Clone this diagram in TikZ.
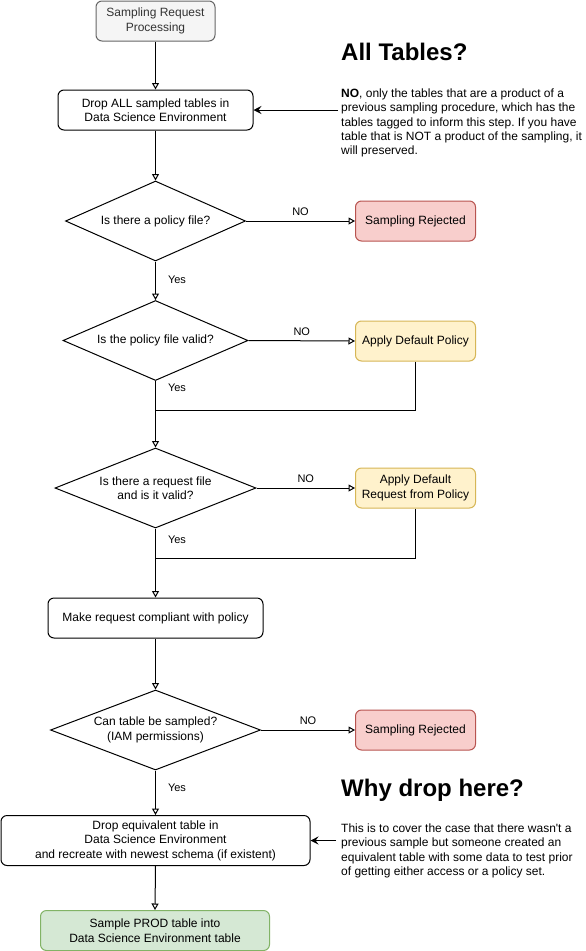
\documentclass[tikz,border=0pt]{standalone}
\usepackage{fontspec}
\setmainfont{Liberation Sans}[Ligatures=TeXOff]
\usetikzlibrary{shapes.geometric,arrows.meta,calc}
\definecolor{grayfill}{HTML}{F5F5F5}
\definecolor{graydraw}{HTML}{666666}
\definecolor{graytext}{HTML}{333333}
\definecolor{redfill}{HTML}{F8CECC}
\definecolor{reddraw}{HTML}{B85450}
\definecolor{yelfill}{HTML}{FFF2CC}
\definecolor{yeldraw}{HTML}{D6B656}
\definecolor{grnfill}{HTML}{D5E8D4}
\definecolor{grndraw}{HTML}{82B366}
\frenchspacing
\begin{document}
\begin{tikzpicture}[x=1pt,y=-1pt,
  base/.style={font=\fontsize{12}{14.4}\selectfont, align=center, inner sep=0pt, line width=1pt},
  box/.style={base, draw, rounded corners=6pt, fill=white, minimum height=40pt},
  dia/.style={base, draw, diamond, fill=white, minimum height=80pt},
  flow/.style={line width=1pt, -{Triangle[open,length=6.5pt,width=7pt]}},
  plain/.style={line width=1pt},
  note/.style={line width=1pt, -{Stealth[length=8pt,width=8pt,inset=3pt]}},
  lab/.style={font=\fontsize{11}{13}\selectfont, inner sep=0pt},
  head/.style={font=\fontsize{24}{28}\selectfont\bfseries, inner sep=0pt, anchor=west},
  para/.style={font=\fontsize{12}{14.4}\selectfont, align=left, inner sep=0pt, anchor=north west},
]
\path[use as bounding box, fill=white] (0,0) rectangle (586,951);

% main column
\node[box, minimum width=119pt, fill=grayfill, draw=graydraw, text=graytext] (start) at (155.5,21) {Sampling Request\\Processing};
\node[box, minimum width=195pt] (drop1) at (155.5,110) {Drop ALL sampled tables in\\Data Science Environment};
\node[dia, minimum width=180pt, aspect=2.25] (d1) at (155.5,221) {Is there a policy file?};
\node[dia, minimum width=185pt, aspect=2.3] (d2) at (155.5,340.5) {Is the policy file valid?};
\node[dia, minimum width=201pt, aspect=2.5] (d3) at (155.5,488) {Is there a request file\\and is it valid?};
\node[box, minimum width=215pt] (make) at (155.5,618) {Make request compliant with policy};
\node[dia, minimum width=210pt, aspect=2.6] (d4) at (155.5,730) {Can table be sampled?\\(IAM permissions)};
\node[box, minimum width=309pt, minimum height=50pt] (drop2) at (155.5,840.5) {Drop equivalent table in\\Data Science Environment\\and recreate with newest schema (if existent)};
\node[box, minimum width=229pt, fill=grnfill, draw=grndraw] (sample) at (155,930.5) {Sample PROD table into\\Data Science Environment table};

% right column
\node[box, minimum width=120pt, fill=redfill, draw=reddraw] (rej1) at (415.5,221) {Sampling Rejected};
\node[box, minimum width=120pt, fill=yelfill, draw=yeldraw] (def1) at (415.5,341) {Apply Default Policy};
\node[box, minimum width=120pt, fill=yelfill, draw=yeldraw] (def2) at (415.5,488) {Apply Default\\Request from Policy};
\node[box, minimum width=120pt, fill=redfill, draw=reddraw] (rej2) at (415.5,730) {Sampling Rejected};

% annotations
\node[head] (h1) at (341,52) {All Tables?};
\node[para] (p1) at (341,88.5) {\textbf{NO}, only the tables that are a product of a\\previous sampling procedure, which has the\\tables tagged to inform this step. If you have\\table that is NOT a product of the sampling, it\\will preserved.};
\node[head] (h2) at (341,790) {Why drop here?};
\node[para] (p2) at (341,823.5) {This is to cover the case that there wasn't a\\previous sample but someone created an\\equivalent table with some data to test prior\\of getting either access or a policy set.};

\coordinate (n1) at (338,110);
\coordinate (n2) at (336,840.5);
\coordinate (m1) at (155.5,410);
\coordinate (m2) at (155.5,558);

% connectors
\draw[flow] (start.south) -- (drop1.north);
\draw[flow] (drop1.south) -- (d1.north);
\draw[flow] (d1.east) -- node[lab, midway, above=5pt] {NO} (rej1.west);
\draw[flow] (d1.south) -- node[lab, pos=0.48, anchor=west, xshift=12pt] {Yes} (d2.north);
\draw[flow] (d2.east) -- node[lab, midway, above=5pt] {NO} (def1.west);
\draw[flow] (d2.south) -- node[lab, pos=0.1, anchor=west, xshift=12pt] {Yes} (d3.north);
\draw[plain] (def1.south) |- (m1);
\draw[flow] (d3.east) -- node[lab, midway, above=5pt] {NO} (def2.west);
\draw[flow] (d3.south) -- node[lab, pos=0.16, anchor=west, xshift=12pt] {Yes} (make.north);
\draw[plain] (def2.south) |- (m2);
\draw[flow] (make.south) -- (d4.north);
\draw[flow] (d4.east) -- node[lab, midway, above=5pt] {NO} (rej2.west);
\draw[flow] (d4.south) -- node[lab, pos=0.39, anchor=west, xshift=12pt] {Yes} (drop2.north);
\draw[flow] (drop2.south) -- (sample.north);
\draw[note] (n1) -- (drop1.east);
\draw[note] (n2) -- (drop2.east);
\end{tikzpicture}
\end{document}
